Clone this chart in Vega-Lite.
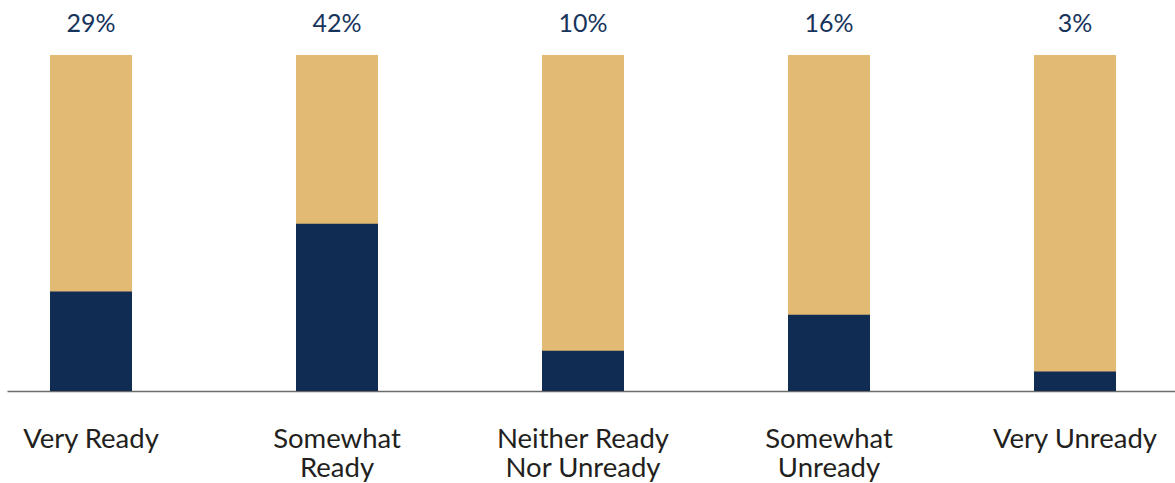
{
  "$schema": "https://vega.github.io/schema/vega-lite/v6.json",
  "autosize": {"type": "none"},
  "padding": {"left": 7, "top": 55, "right": 0, "bottom": 92},
  "width": 1168,
  "height": 336,
  "background": "white",
  "config": {"view": {"stroke": null}, "font": "Lato"},
  "data": {
    "values": [
      {"category": "Very Ready", "label": "29%", "total": 100, "navy": 29.6},
      {"category": "Somewhat Ready", "label": "42%", "total": 100, "navy": 49.8},
      {"category": "Neither Ready Nor Unready", "label": "10%", "total": 100, "navy": 12.0},
      {"category": "Somewhat Unready", "label": "16%", "total": 100, "navy": 22.7},
      {"category": "Very Unready", "label": "3%", "total": 100, "navy": 5.8}
    ]
  },
  "encoding": {
    "x": {
      "field": "category",
      "type": "nominal",
      "sort": null,
      "scale": {"paddingInner": 0.6667, "paddingOuter": 0.2073, "align": 0.4216},
      "axis": {
        "title": null,
        "labelAngle": 0,
        "ticks": false,
        "tickSize": 0,
        "domainColor": "#6b6b6b",
        "domainWidth": 1.5,
        "labelFont": "Lato",
        "labelFontSize": 27.5,
        "labelColor": "#231f20",
        "labelBaseline": "alphabetic",
        "labelPadding": 56,
        "labelLineHeight": 29,
        "labelLimit": 400,
        "labelOverlap": false,
        "labelBound": false,
        "labelExpr": "datum.value == 'Somewhat Ready' ? ['Somewhat', 'Ready'] : datum.value == 'Neither Ready Nor Unready' ? ['Neither Ready', 'Nor Unready'] : datum.value == 'Somewhat Unready' ? ['Somewhat', 'Unready'] : datum.value"
      }
    }
  },
  "layer": [
    {
      "mark": {"type": "bar", "color": "#e3ba74"},
      "encoding": {
        "y": {"field": "total", "type": "quantitative", "scale": {"domain": [0, 100], "nice": false}, "axis": null}
      }
    },
    {
      "mark": {"type": "bar", "color": "#102c52"},
      "encoding": {
        "y": {"field": "navy", "type": "quantitative"}
      }
    },
    {
      "mark": {"type": "text", "font": "Lato", "fontSize": 25, "color": "#17345c", "baseline": "alphabetic", "dy": -23},
      "encoding": {
        "y": {"field": "total", "type": "quantitative"},
        "text": {"field": "label"}
      }
    }
  ]
}
